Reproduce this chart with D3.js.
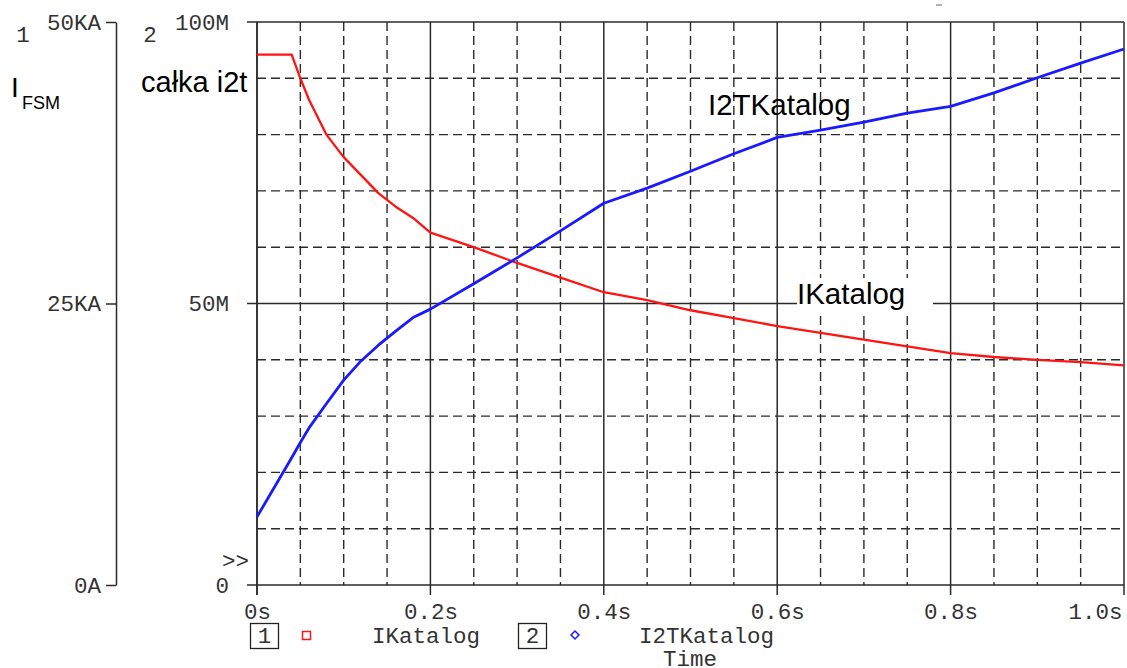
<!DOCTYPE html>
<html><head><meta charset="utf-8">
<script src="https://cdn.jsdelivr.net/npm/d3@7/dist/d3.min.js"></script>
<style>
html,body{margin:0;padding:0;background:#fff;}
svg{display:block;}
.mono{font-family:"Liberation Mono","Courier New",monospace;font-size:22.5px;fill:#333;}
.sans{font-family:"Liberation Sans",Arial,sans-serif;fill:#000;}
</style>
</head><body>
<svg id="chart" width="1127" height="668"></svg>
<script>
// ---- data ----
const time = [0,0.04,0.05,0.06,0.08,0.1,0.12,0.14,0.16,0.18,0.2,0.25,0.3,0.35,0.4,0.45,0.5,0.55,0.6,0.65,0.7,0.75,0.8,0.85,0.9,0.95,1.0];
const iKatalog = [47.1,47.1,45.0,43.1,40.0,38.0,36.4,34.8,33.6,32.6,31.3,30.0,28.6,27.3,26.0,25.3,24.4,23.7,23.0,22.4,21.8,21.2,20.6,20.25,20.0,19.8,19.5]; // KA
const i2tKatalog = [12.1,22.6,25.3,27.9,32.2,36.4,39.8,42.6,45.1,47.5,49.0,53.5,58.1,62.9,67.8,70.5,73.5,76.6,79.5,80.8,82.2,83.8,85.0,87.4,90.1,92.7,95.2]; // M
const xTicks = [0,0.2,0.4,0.6,0.8,1.0];
const xTickLabels = ["0s","0.2s","0.4s","0.6s","0.8s","1.0s"];
const y1Ticks = [0,25,50];
const y1TickLabels = ["0A","25KA","50KA"];
const y2Ticks = [0,50,100];
const y2TickLabels = ["0","50M","100M"];
const seriesNames = ["IKatalog","I2TKatalog"];

const svg = d3.select("#chart");
const x = d3.scaleLinear().domain([0,1]).range([257,1124]);
const y1 = d3.scaleLinear().domain([0,50]).range([585,22]);
const y2 = d3.scaleLinear().domain([0,100]).range([585,22]);

const gridCol = "#2a2a2a";
// vertical grid
const vg = d3.range(0,21).map(i=>i*0.05);
svg.append("g").selectAll("line").data(vg).join("line")
  .attr("x1",d=>x(d)).attr("x2",d=>x(d))
  .attr("y1",y2(100)).attr("y2",d=> (Math.round(d*20)%4===0)?595:585)
  .attr("stroke",gridCol)
  .attr("stroke-width",d=>(Math.round(d*20)%4===0)?1.5:1.4)
  .attr("stroke-dasharray",d=>(Math.round(d*20)%4===0)?null:"9,5");
// horizontal grid
const hg = d3.range(0,11).map(i=>i*10);
svg.append("g").selectAll("line").data(hg).join("line")
  .attr("x1",d=>(d%50===0)?247:257).attr("x2",x(1))
  .attr("y1",d=>y2(d)).attr("y2",d=>y2(d))
  .attr("stroke",gridCol)
  .attr("stroke-width",d=>(d%50===0)?1.5:1.4)
  .attr("stroke-dasharray",d=>(d%50===0)?null:"9,5");

// axis 1 (left, KA)
const ax1 = d3.axisLeft(y1).tickValues(y1Ticks).tickFormat((d,i)=>y1TickLabels[i]).tickSize(10).tickPadding(5).tickSizeOuter(0);
const g1 = svg.append("g").attr("transform","translate(116,0)").call(ax1);
g1.select(".domain").attr("stroke",gridCol).attr("stroke-width",1.5);
g1.selectAll(".tick line").attr("stroke",gridCol).attr("stroke-width",1.5);
g1.selectAll("text").attr("class","mono").attr("font-family",null).attr("font-size",null).attr("fill",null);

// axis 2 (M)
const ax2 = d3.axisLeft(y2).tickValues(y2Ticks).tickFormat((d,i)=>y2TickLabels[i]).tickSize(0).tickPadding(28).tickSizeOuter(0);
const g2 = svg.append("g").attr("transform","translate(257,0)").call(ax2);
g2.select(".domain").remove();
g2.selectAll("text").attr("class","mono").attr("font-family",null).attr("font-size",null).attr("fill",null);
svg.append("line").attr("x1",257).attr("x2",257).attr("y1",y2(100)).attr("y2",595).attr("stroke",gridCol).attr("stroke-width",1.5);

// x axis
const axx = d3.axisBottom(x).tickValues(xTicks).tickFormat((d,i)=>xTickLabels[i]).tickSize(0).tickPadding(18).tickSizeOuter(0);
const gx = svg.append("g").attr("transform","translate(0,585)").call(axx);
gx.select(".domain").remove();
gx.selectAll("text").attr("class","mono").attr("font-family",null).attr("font-size",null).attr("fill",null);
gx.selectAll(".tick").filter(d=>d===1).select("text").attr("text-anchor","end").attr("dx",-2);

// lines
const pts1 = time.map((t,i)=>[t,iKatalog[i]]);
const pts2 = time.map((t,i)=>[t,i2tKatalog[i]]);
svg.append("path").datum(pts1).attr("fill","none").attr("stroke","#ff1414").attr("stroke-width",2.3)
  .attr("stroke-linejoin","round").attr("d",d3.line().x(d=>x(d[0])).y(d=>y1(d[1])));
svg.append("path").datum(pts2).attr("fill","none").attr("stroke","#1a1aff").attr("stroke-width",2.8)
  .attr("stroke-linejoin","round").attr("d",d3.line().x(d=>x(d[0])).y(d=>y2(d[1])));

// annotations
svg.append("rect").attr("x",797).attr("y",278).attr("width",136).attr("height",34).attr("fill","#fff");
svg.append("text").attr("class","sans").attr("x",797).attr("y",304).attr("font-size",29.5).text(seriesNames[0]);
svg.append("text").attr("class","sans").attr("x",708).attr("y",115).attr("font-size",29.5).text(seriesNames[1]);
svg.append("text").attr("class","sans").attr("x",141).attr("y",92).attr("font-size",29).text("całka i2t");
svg.append("text").attr("class","sans").attr("x",11).attr("y",97).attr("font-size",28).text("I");
svg.append("text").attr("class","sans").attr("x",22).attr("y",109).attr("font-size",18).text("FSM");
svg.append("text").attr("class","mono").attr("x",23).attr("y",42).attr("text-anchor","middle").text("1");
svg.append("text").attr("class","mono").attr("x",150).attr("y",42).attr("text-anchor","middle").text("2");
svg.append("text").attr("class","mono").attr("x",249).attr("y",568).attr("text-anchor","end").text(">>");
svg.append("line").attr("x1",936).attr("x2",942).attr("y1",5).attr("y2",5).attr("stroke","#999").attr("stroke-width",1.5);

// legend
const leg = svg.append("g");
leg.append("rect").attr("x",250.5).attr("y",623.5).attr("width",28).attr("height",25).attr("fill","none").attr("stroke","#222").attr("stroke-width",1.3);
leg.append("text").attr("class","mono").attr("x",264.5).attr("y",643).attr("text-anchor","middle").text("1");
leg.append("rect").attr("x",302.5).attr("y",631.5).attr("width",8).attr("height",8).attr("fill","none").attr("stroke","#ff1414").attr("stroke-width",1.5);
leg.append("text").attr("class","mono").attr("x",372).attr("y",643).text(seriesNames[0]);
leg.append("rect").attr("x",518.5).attr("y",623.5).attr("width",28).attr("height",25).attr("fill","none").attr("stroke","#222").attr("stroke-width",1.3);
leg.append("text").attr("class","mono").attr("x",532.5).attr("y",643).attr("text-anchor","middle").text("2");
leg.append("path").attr("d",d3.symbol(d3.symbolDiamond2? d3.symbolDiamond2 : d3.symbolDiamond, 40)()).attr("transform","translate(575,635)")
  .attr("fill","none").attr("stroke","#1a1aff").attr("stroke-width",1.5);
leg.append("text").attr("class","mono").attr("x",639).attr("y",643).text(seriesNames[1]);
leg.append("text").attr("class","mono").attr("x",690).attr("y",666).attr("text-anchor","middle").text("Time");
</script>
</body></html>
